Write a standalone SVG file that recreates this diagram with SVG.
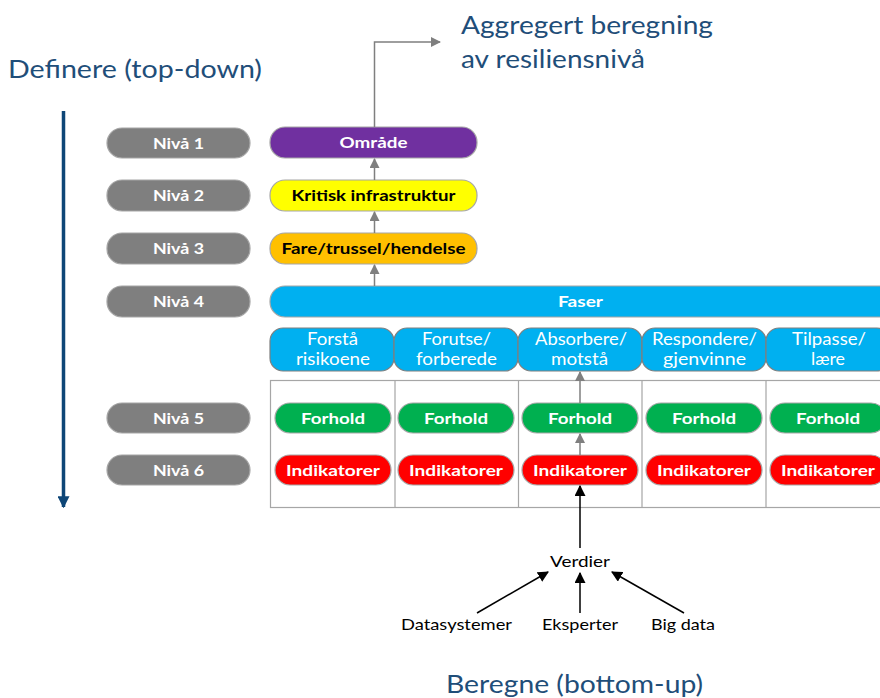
<svg xmlns="http://www.w3.org/2000/svg" width="880" height="698" viewBox="0 0 880 698">
  <style>
    text { font-family: Lato, "Open Sans", "Liberation Sans", sans-serif; }
    .title { font-size: 25px; fill: #1F4E79; }
    .pill { stroke: #A6A6A6; stroke-width: 1.2; }
    .lvl { fill: #7F7F7F; }
    .lbl { font-size: 16px; font-weight: bold; text-anchor: middle; fill: #fff; }
    .dark { fill: #000; }
    .phase { fill: #00B0F0; stroke: #7F7F7F; stroke-width: 1.2; }
    .ptxt { font-size: 17px; fill: #fff; text-anchor: middle; }
    .src { font-size: 16px; fill: #000; text-anchor: middle; }
    .grey { stroke: #7F7F7F; stroke-width: 1.5; fill: none; }
    .black { stroke: #000; stroke-width: 1.5; fill: none; }
  </style>
  <defs>
    <marker id="ag" viewBox="0 0 10 10" refX="9" refY="5" markerWidth="10" markerHeight="10" markerUnits="userSpaceOnUse" orient="auto">
      <path d="M0,0 L10,5 L0,10 z" fill="#7F7F7F"/>
    </marker>
    <marker id="ab" viewBox="0 0 10 10" refX="9" refY="5" markerWidth="11" markerHeight="11" markerUnits="userSpaceOnUse" orient="auto">
      <path d="M0,0 L10,5 L0,10 z" fill="#000"/>
    </marker>
    <marker id="adb" viewBox="0 0 10 10" refX="9" refY="5" markerWidth="12" markerHeight="12" markerUnits="userSpaceOnUse" orient="auto">
      <path d="M0,0 L10,5 L0,10 z" fill="#0E4677"/>
    </marker>
  </defs>

  <rect width="880" height="698" fill="#fff"/>

  <!-- headings -->
  <g id="titles">
    <text class="title" x="8" y="78" textLength="254" lengthAdjust="spacingAndGlyphs">Definere (top-down)</text>
    <text class="title" x="461" y="34" textLength="252" lengthAdjust="spacingAndGlyphs">Aggregert beregning</text>
    <text class="title" x="461" y="68" textLength="184" lengthAdjust="spacingAndGlyphs">av resiliensnivå</text>
    <text class="title" x="446" y="693" font-size="26" textLength="257" lengthAdjust="spacingAndGlyphs">Beregne (bottom-up)</text>
  </g>

  <!-- grid of phases -->
  <g id="grid">
    <rect x="270.5" y="380.5" width="620" height="127" fill="#fff" stroke="#A6A6A6" stroke-width="1.2"/>
    <path d="M395 380V508M518.5 380V508M642 380V508M766 380V508" stroke="#A6A6A6" stroke-width="1.2"/>
  </g>

  <!-- level labels -->
  <g id="levels">
    <g id="niva1"><rect class="pill lvl" x="107" y="128" width="143" height="30" rx="15"/><text class="lbl" x="178.5" y="148.5" textLength="51" lengthAdjust="spacingAndGlyphs">Nivå 1</text></g>
    <g id="niva2"><rect class="pill lvl" x="107" y="180" width="143" height="31" rx="15"/><text class="lbl" x="178.5" y="201" textLength="51" lengthAdjust="spacingAndGlyphs">Nivå 2</text></g>
    <g id="niva3"><rect class="pill lvl" x="107" y="233" width="143" height="31" rx="15"/><text class="lbl" x="178.5" y="254" textLength="51" lengthAdjust="spacingAndGlyphs">Nivå 3</text></g>
    <g id="niva4"><rect class="pill lvl" x="107" y="286" width="143" height="31" rx="15"/><text class="lbl" x="178.5" y="307" textLength="51" lengthAdjust="spacingAndGlyphs">Nivå 4</text></g>
    <g id="niva5"><rect class="pill lvl" x="107" y="403" width="143" height="30" rx="15"/><text class="lbl" x="178.5" y="423.5" textLength="51" lengthAdjust="spacingAndGlyphs">Nivå 5</text></g>
    <g id="niva6"><rect class="pill lvl" x="107" y="455" width="143" height="30" rx="15"/><text class="lbl" x="178.5" y="475.5" textLength="51" lengthAdjust="spacingAndGlyphs">Nivå 6</text></g>
  </g>

  <!-- hierarchy -->
  <g id="omrade"><rect class="pill" x="270" y="127" width="207" height="31" rx="15" fill="#7030A0"/><text class="lbl" x="373.5" y="148" textLength="68" lengthAdjust="spacingAndGlyphs">Område</text></g>
  <g id="kritisk"><rect class="pill" x="270" y="180" width="207" height="31" rx="15" fill="#FFFF00"/><text class="lbl dark" x="373.5" y="201" textLength="164" lengthAdjust="spacingAndGlyphs">Kritisk infrastruktur</text></g>
  <g id="fare"><rect class="pill" x="270" y="233" width="207" height="31" rx="15" fill="#FFC000"/><text class="lbl dark" x="373.5" y="254" textLength="184" lengthAdjust="spacingAndGlyphs">Fare/trussel/hendelse</text></g>
  <g id="faser"><rect class="pill" x="270" y="286" width="640" height="31" rx="15" fill="#00B0F0"/><text class="lbl" x="580.5" y="307" textLength="45" lengthAdjust="spacingAndGlyphs">Faser</text></g>

  <!-- phases -->
  <g id="fase-forsta"><rect class="phase" x="270" y="328" width="124" height="43" rx="13"/><text class="ptxt" x="332.5" y="345" textLength="51" lengthAdjust="spacingAndGlyphs">Forstå</text><text class="ptxt" x="333" y="365" textLength="74" lengthAdjust="spacingAndGlyphs">risikoene</text></g>
  <g id="fase-forutse"><rect class="phase" x="394" y="328" width="124" height="43" rx="13"/><text class="ptxt" x="456.5" y="345" textLength="69" lengthAdjust="spacingAndGlyphs">Forutse/</text><text class="ptxt" x="456.5" y="365" textLength="81" lengthAdjust="spacingAndGlyphs">forberede</text></g>
  <g id="fase-absorbere"><rect class="phase" x="518" y="328" width="124" height="43" rx="13"/><text class="ptxt" x="581" y="345" textLength="92" lengthAdjust="spacingAndGlyphs">Absorbere/</text><text class="ptxt" x="579.5" y="365" textLength="57" lengthAdjust="spacingAndGlyphs">motstå</text></g>
  <g id="fase-respondere"><rect class="phase" x="642" y="328" width="124" height="43" rx="13"/><text class="ptxt" x="704.5" y="345" textLength="105" lengthAdjust="spacingAndGlyphs">Respondere/</text><text class="ptxt" x="704.5" y="365" textLength="83" lengthAdjust="spacingAndGlyphs">gjenvinne</text></g>
  <g id="fase-tilpasse"><rect class="phase" x="766" y="328" width="124" height="43" rx="13"/><text class="ptxt" x="829" y="345" textLength="74" lengthAdjust="spacingAndGlyphs">Tilpasse/</text><text class="ptxt" x="828" y="365" textLength="34" lengthAdjust="spacingAndGlyphs">lære</text></g>

  <!-- conditions -->
  <g id="forhold">
    <g id="forhold1"><rect class="pill" x="275" y="403" width="116" height="30" rx="15" fill="#00B050"/><text class="lbl" x="333" y="424" textLength="64" lengthAdjust="spacingAndGlyphs">Forhold</text></g>
    <g id="forhold2"><rect class="pill" x="398" y="403" width="116" height="30" rx="15" fill="#00B050"/><text class="lbl" x="456" y="424" textLength="64" lengthAdjust="spacingAndGlyphs">Forhold</text></g>
    <g id="forhold3"><rect class="pill" x="522" y="403" width="116" height="30" rx="15" fill="#00B050"/><text class="lbl" x="580" y="424" textLength="64" lengthAdjust="spacingAndGlyphs">Forhold</text></g>
    <g id="forhold4"><rect class="pill" x="646" y="403" width="116" height="30" rx="15" fill="#00B050"/><text class="lbl" x="704" y="424" textLength="64" lengthAdjust="spacingAndGlyphs">Forhold</text></g>
    <g id="forhold5"><rect class="pill" x="770" y="403" width="116" height="30" rx="15" fill="#00B050"/><text class="lbl" x="828" y="424" textLength="64" lengthAdjust="spacingAndGlyphs">Forhold</text></g>
  </g>

  <!-- indicators -->
  <g id="indikatorer">
    <g id="ind1"><rect class="pill" x="275" y="455" width="116" height="30" rx="15" fill="#FF0000"/><text class="lbl" x="333" y="476" textLength="94" lengthAdjust="spacingAndGlyphs">Indikatorer</text></g>
    <g id="ind2"><rect class="pill" x="398" y="455" width="116" height="30" rx="15" fill="#FF0000"/><text class="lbl" x="456" y="476" textLength="94" lengthAdjust="spacingAndGlyphs">Indikatorer</text></g>
    <g id="ind3"><rect class="pill" x="522" y="455" width="116" height="30" rx="15" fill="#FF0000"/><text class="lbl" x="580" y="476" textLength="94" lengthAdjust="spacingAndGlyphs">Indikatorer</text></g>
    <g id="ind4"><rect class="pill" x="646" y="455" width="116" height="30" rx="15" fill="#FF0000"/><text class="lbl" x="704" y="476" textLength="94" lengthAdjust="spacingAndGlyphs">Indikatorer</text></g>
    <g id="ind5"><rect class="pill" x="770" y="455" width="116" height="30" rx="15" fill="#FF0000"/><text class="lbl" x="828" y="476" textLength="94" lengthAdjust="spacingAndGlyphs">Indikatorer</text></g>
  </g>

  <!-- data sources -->
  <g id="verdier"><text class="src" x="580" y="567" textLength="60" lengthAdjust="spacingAndGlyphs">Verdier</text></g>
  <g id="datasystemer"><text class="src" x="456.5" y="630" textLength="111" lengthAdjust="spacingAndGlyphs">Datasystemer</text></g>
  <g id="eksperter"><text class="src" x="580" y="630" textLength="76" lengthAdjust="spacingAndGlyphs">Eksperter</text></g>
  <g id="bigdata"><text class="src" x="683" y="630" textLength="64" lengthAdjust="spacingAndGlyphs">Big data</text></g>

  <!-- connectors -->
  <g id="connectors">
    <path class="grey" d="M374.5 127V42H440" marker-end="url(#ag)"/>
    <path class="grey" d="M374.5 180V159" marker-end="url(#ag)"/>
    <path class="grey" d="M374.5 233V212" marker-end="url(#ag)"/>
    <path class="grey" d="M374.5 286V265" marker-end="url(#ag)"/>
    <path class="grey" d="M580 403V372" marker-end="url(#ag)"/>
    <path class="grey" d="M580 455V434" marker-end="url(#ag)"/>
    <path class="black" d="M580 548V486" marker-end="url(#ab)"/>
    <path class="black" d="M477 613L548 572" marker-end="url(#ab)"/>
    <path class="black" d="M580 613V573" marker-end="url(#ab)"/>
    <path class="black" d="M684 613L612 572" marker-end="url(#ab)"/>
    <path d="M63.5 111V507" stroke="#0E4677" stroke-width="3.5" fill="none" marker-end="url(#adb)"/>
  </g>
</svg>
